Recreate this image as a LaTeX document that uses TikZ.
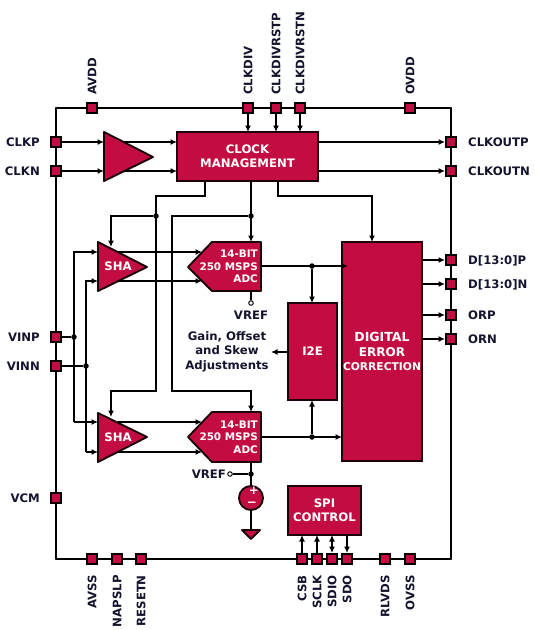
\documentclass[tikz,border=0pt]{standalone}
\usepackage{fontspec}
\usepackage{tikz}
\usetikzlibrary{arrows.meta}
\usepackage{tkz-euclide}
\setmainfont{DejaVu Sans}
\definecolor{blockred}{HTML}{C30D42}
\definecolor{labelink}{HTML}{14142E}
\tikzset{
    wire/.style={black, line width=1.9pt},
    blockfill/.style={draw=black!85!blockred, fill=blockred, line width=1.9pt},
    blockbox/.style={blockfill, inner sep=0pt, outer sep=0pt, text=white, align=center, font=\bfseries\fontsize{11.7}{14.4}\selectfont},
    pinbox/.style={draw=black, fill=blockred, line width=1.9pt, minimum size=10pt, inner sep=0pt},
    dotjoin/.style={circle, fill=black, minimum size=5.5pt, inner sep=0pt},
    openpin/.style={circle, draw=black, fill=white, line width=1pt, minimum size=4.5pt, inner sep=0pt},
    pinlabel/.style={text=labelink, inner sep=0pt, text height=8.5pt, text depth=0pt, font=\bfseries\fontsize{11.7}{14.4}\selectfont},
    adctext/.style={text=white, inner sep=0pt, align=right, anchor=east, font=\bfseries\fontsize{10.4}{12.5}\selectfont},
}
\begin{document}
\begin{tikzpicture}[x=1pt, y=-1pt, >={Latex[length=6.5pt,width=6pt]}]
                \useasboundingbox (0,0) rectangle (535,630);
                \tkzDefPoints{56/108/TL, 451/108/TR, 451/559/BR, 56/559/BL}
                % clock buffer and clock block
                \tkzDefPoints{104/132/BufT, 104/181/BufB, 153/157/BufO, 104/142/BufA, 104/171/BufC, 124/142/BufE, 124/171/BufF, 177/142/ClkA, 177/171/ClkC}
                \tkzDefPoints{248/132/ClkU, 276/132/ClkV, 300/132/ClkW, 318/142/ClkE, 318/171/ClkF}
                \tkzDefPoints{205/181/ClkG, 205/196/G1, 156/196/G2, 156/391/G3, 111/391/G4, 111/417/G5, 111/216/G6, 111/247/G7}
                \tkzDefPoints{251/181/ClkH, 251/242/H1, 172/216/H2, 172/391/H3, 251/391/H4, 251/412/H5}
                \tkzDefPoints{278/181/ClkK, 278/196/K1, 372/196/K2, 372/242/K3}
                % upper and lower converter channels
                \tkzDefPoints{98/242/ShaT, 98/291/ShaB, 147/267/ShaO, 98/252/ShaA, 98/281/ShaC, 118/252/ShaE, 118/281/ShaF, 202/252/AdcA, 202/281/AdcC}
                \tkzDefPoints{98/413/ShbT, 98/462/ShbB, 147/437/ShbO, 98/422/ShbA, 98/452/ShbC, 118/422/ShbE, 118/452/ShbF, 202/422/AdbA, 202/452/AdbC}
                \tkzDefPoints{188/267/AdcP, 212/242/AdcQ, 261/242/AdcR, 261/291/AdcS, 212/291/AdcU, 261/266/AdcO}
                \tkzDefPoints{188/437/AdbP, 212/412/AdbQ, 261/412/AdbR, 261/462/AdbS, 212/462/AdbU, 261/437/AdbO}
                \tkzDefPoints{74/252/InA, 74/422/InB, 86/281/InC, 86/452/InD, 251/291/AdcV, 251/462/AdbV}
                \tkzDefPoints{348/266/DecA, 342/437/DecC, 422/260/DecD, 422/284/DecN, 422/315/DecP, 422/339/DecR, 312/303/EyeT, 312/400/EyeB, 288/352/EyeL, 271/352/EyeG}
                % reference source and serial port
                \tkzDefPoints{251/530/GndA, 242/530/GndL, 260/530/GndR, 251/539/GndB}
                \tkzDefPoints{302/535/SpiA, 317/535/SpiB, 332/535/SpiC, 347/535/SpiD}
                \tkzDrawSegments[wire](TL,TR TR,BR BR,BL BL,TL)
                \node[pinbox] (pAVDD) at (92,108) {};
                \node[pinbox] (pCLKDIV) at (248,108) {};
                \node[pinbox] (pRSTP) at (276,108) {};
                \node[pinbox] (pRSTN) at (300,108) {};
                \node[pinbox] (pOVDD) at (410,108) {};
                \node[pinbox] (pCLKP) at (56,142) {};
                \node[pinbox] (pCLKN) at (56,171) {};
                \node[pinbox] (pVINP) at (56,337) {};
                \node[pinbox] (pVINN) at (56,366) {};
                \node[pinbox] (pVCM) at (56,498) {};
                \node[pinbox] (pOUTP) at (451,142) {};
                \node[pinbox] (pOUTN) at (451,171) {};
                \node[pinbox] (pDP) at (451,260) {};
                \node[pinbox] (pDN) at (451,284) {};
                \node[pinbox] (pORP) at (451,315) {};
                \node[pinbox] (pORN) at (451,339) {};
                \node[pinbox] (pAVSS) at (92,559) {};
                \node[pinbox] (pNAP) at (117,559) {};
                \node[pinbox] (pRES) at (141,559) {};
                \node[pinbox] (pCSB) at (302,559) {};
                \node[pinbox] (pSCLK) at (317,559) {};
                \node[pinbox] (pSDIO) at (332,559) {};
                \node[pinbox] (pSDO) at (347,559) {};
                \node[pinbox] (pRLVDS) at (385,559) {};
                \node[pinbox] (pOVSS) at (410,559) {};
                \node[pinlabel, rotate=90, anchor=west] (lAVDD) at (92,95) {AVDD};
                \node[pinlabel, rotate=90, anchor=west] (lCLKDIV) at (248,95) {CLKDIV};
                \node[pinlabel, rotate=90, anchor=west] (lRSTP) at (276,95) {CLKDIVRSTP};
                \node[pinlabel, rotate=90, anchor=west] (lRSTN) at (300,95) {CLKDIVRSTN};
                \node[pinlabel, rotate=90, anchor=west] (lOVDD) at (410,95) {OVDD};
                \node[pinlabel, anchor=east] (lCLKP) at (40,142) {CLKP};
                \node[pinlabel, anchor=east] (lCLKN) at (40,171) {CLKN};
                \node[pinlabel, anchor=east] (lVINP) at (40,337) {VINP};
                \node[pinlabel, anchor=east] (lVINN) at (40,366) {VINN};
                \node[pinlabel, anchor=east] (lVCM) at (40,498) {VCM};
                \node[pinlabel, anchor=west] (lOUTP) at (468,142) {CLKOUTP};
                \node[pinlabel, anchor=west] (lOUTN) at (468,171) {CLKOUTN};
                \node[pinlabel, anchor=west] (lDP) at (468,260) {D[13:0]P};
                \node[pinlabel, anchor=west] (lDN) at (468,284) {D[13:0]N};
                \node[pinlabel, anchor=west] (lORP) at (468,315) {ORP};
                \node[pinlabel, anchor=west] (lORN) at (468,339) {ORN};
                \node[pinlabel, rotate=90, anchor=east] (lAVSS) at (92,575) {AVSS};
                \node[pinlabel, rotate=90, anchor=east] (lNAP) at (117,575) {NAPSLP};
                \node[pinlabel, rotate=90, anchor=east] (lRES) at (141,575) {RESETN};
                \node[pinlabel, rotate=90, anchor=east] (lCSB) at (302,575) {CSB};
                \node[pinlabel, rotate=90, anchor=east] (lSCLK) at (317,575) {SCLK};
                \node[pinlabel, rotate=90, anchor=east] (lSDIO) at (332,575) {SDIO};
                \node[pinlabel, rotate=90, anchor=east] (lSDO) at (347,575) {SDO};
                \node[pinlabel, rotate=90, anchor=east] (lRLVDS) at (385,575) {RLVDS};
                \node[pinlabel, rotate=90, anchor=east] (lOVSS) at (410,575) {OVSS};
                \tkzDrawPolygon[blockfill](BufT,BufO,BufB)
                \tkzDrawPolygon[blockfill](ShaT,ShaO,ShaB)
                \tkzDrawPolygon[blockfill](ShbT,ShbO,ShbB)
                \tkzDrawPolygon[blockfill](AdcP,AdcQ,AdcR,AdcS,AdcU)
                \tkzDrawPolygon[blockfill](AdbP,AdbQ,AdbR,AdbS,AdbU)
                \tkzDrawPolygon[blockfill](GndL,GndR,GndB)
                \node[blockbox, minimum width=141pt, minimum height=49pt] (clock) at (247.5,156.5) {CLOCK\\MANAGEMENT};
                \node[blockbox, minimum width=49pt, minimum height=97pt] (ieye) at (312.5,351.5) {I2E};
                \node[blockbox, minimum width=80pt, minimum height=219pt] (dec) at (382,351.5) {{\fontsize{12.5}{14.4}\selectfont DIGITAL}\\{\fontsize{12}{14.4}\selectfont ERROR}\\{\fontsize{10.7}{14.4}\selectfont CORRECTION}};
                \node[blockbox, minimum width=73pt, minimum height=49pt] (spi) at (324.5,510.5) {SPI\\CONTROL};
                \node[text=white, inner sep=0pt, font=\bfseries\fontsize{11.7}{14.4}\selectfont] (shaU) at (118,266) {SHA};
                \node[text=white, inner sep=0pt, font=\bfseries\fontsize{11.7}{14.4}\selectfont] (shaL) at (118,437) {SHA};
                \node[adctext] (adcU) at (258,266.5) {14-BIT\\250 MSPS\\ADC};
                \node[adctext] (adcL) at (258,437) {14-BIT\\250 MSPS\\ADC};
                \node[pinlabel, align=center, text height=, text depth=, anchor=center] (gain) at (227,351.5) {Gain, Offset\\and Skew\\Adjustments};
                \node[pinlabel] (vrefU) at (251,315) {VREF};
                \node[pinlabel, anchor=east] (vrefL) at (226,474) {VREF};
                \node[dotjoin] (d1) at (156,216) {};
                \node[dotjoin] (d2) at (251,216) {};
                \node[dotjoin] (d3) at (74,337) {};
                \node[dotjoin] (d4) at (86,366) {};
                \node[dotjoin] (d5) at (312,266) {};
                \node[dotjoin] (d6) at (312,437) {};
                \node[dotjoin] (d7) at (251,474) {};
                \node[openpin] (oU) at (251,303) {};
                \node[openpin] (oL) at (230,474) {};
                \node[circle, draw=black!85!blockred, fill=blockred, line width=1.9pt, minimum size=24pt, inner sep=0pt] (vsrc) at (251,498) {};
                \node[text=white, inner sep=0pt, font=\bfseries\fontsize{12}{12}\selectfont] (vplus) at (254,491) {+};
                \node[text=white, inner sep=0pt, font=\bfseries\fontsize{12}{12}\selectfont] (vminus) at (252,504) {−};
                \draw[wire,->] (pCLKP) -- (BufA);
                \draw[wire,->] (pCLKN) -- (BufC);
                \tkzDrawSegments[wire,->](BufE,ClkA BufF,ClkC ShaE,AdcA ShaF,AdcC ShbE,AdbA ShbF,AdbC)
                \draw[wire,->] (pCLKDIV) -- (ClkU);
                \draw[wire,->] (pRSTP) -- (ClkV);
                \draw[wire,->] (pRSTN) -- (ClkW);
                \draw[wire,->] (ClkE) -- (pOUTP);
                \draw[wire,->] (ClkF) -- (pOUTN);
                \draw[wire,->] (DecD) -- (pDP);
                \draw[wire,->] (DecN) -- (pDN);
                \draw[wire,->] (DecP) -- (pORP);
                \draw[wire,->] (DecR) -- (pORN);
                \tkzDrawSegments[wire,->](AdcO,DecA AdbO,DecC EyeL,EyeG ClkH,H1)
                \draw[wire,->] (d5) -- (EyeT);
                \draw[wire,->] (d6) -- (EyeB);
                \draw[wire,->] (pCSB) -- (SpiA);
                \draw[wire,->] (pSCLK) -- (SpiB);
                \draw[wire,<->] (pSDIO) -- (SpiC);
                \draw[wire,->] (SpiD) -- (pSDO);
                \draw[wire] (AdcV) -- (oU);
                \draw[wire] (AdbV) -- (vsrc);
                \draw[wire] (vsrc) -- (GndA);
                \draw[wire] (d7) -- (oL);
                \draw[wire,->] (ClkG) -- (G1) -- (G2) -- (G3) -- (G4) -- (G5);
                \draw[wire,->] (d1) -- (G6) -- (G7);
                \draw[wire,->] (d2) -- (H2) -- (H3) -- (H4) -- (H5);
                \draw[wire,->] (ClkK) -- (K1) -- (K2) -- (K3);
                \draw[wire,->] (InB) -- (InA) -- (ShaA);
                \draw[wire,->] (InB) -- (ShbA);
                \draw[wire,->] (InD) -- (InC) -- (ShaC);
                \draw[wire,->] (InD) -- (ShbC);
                \draw[wire] (pVINP) -- (d3);
                \draw[wire] (pVINN) -- (d4);
            \end{tikzpicture}
\end{document}
